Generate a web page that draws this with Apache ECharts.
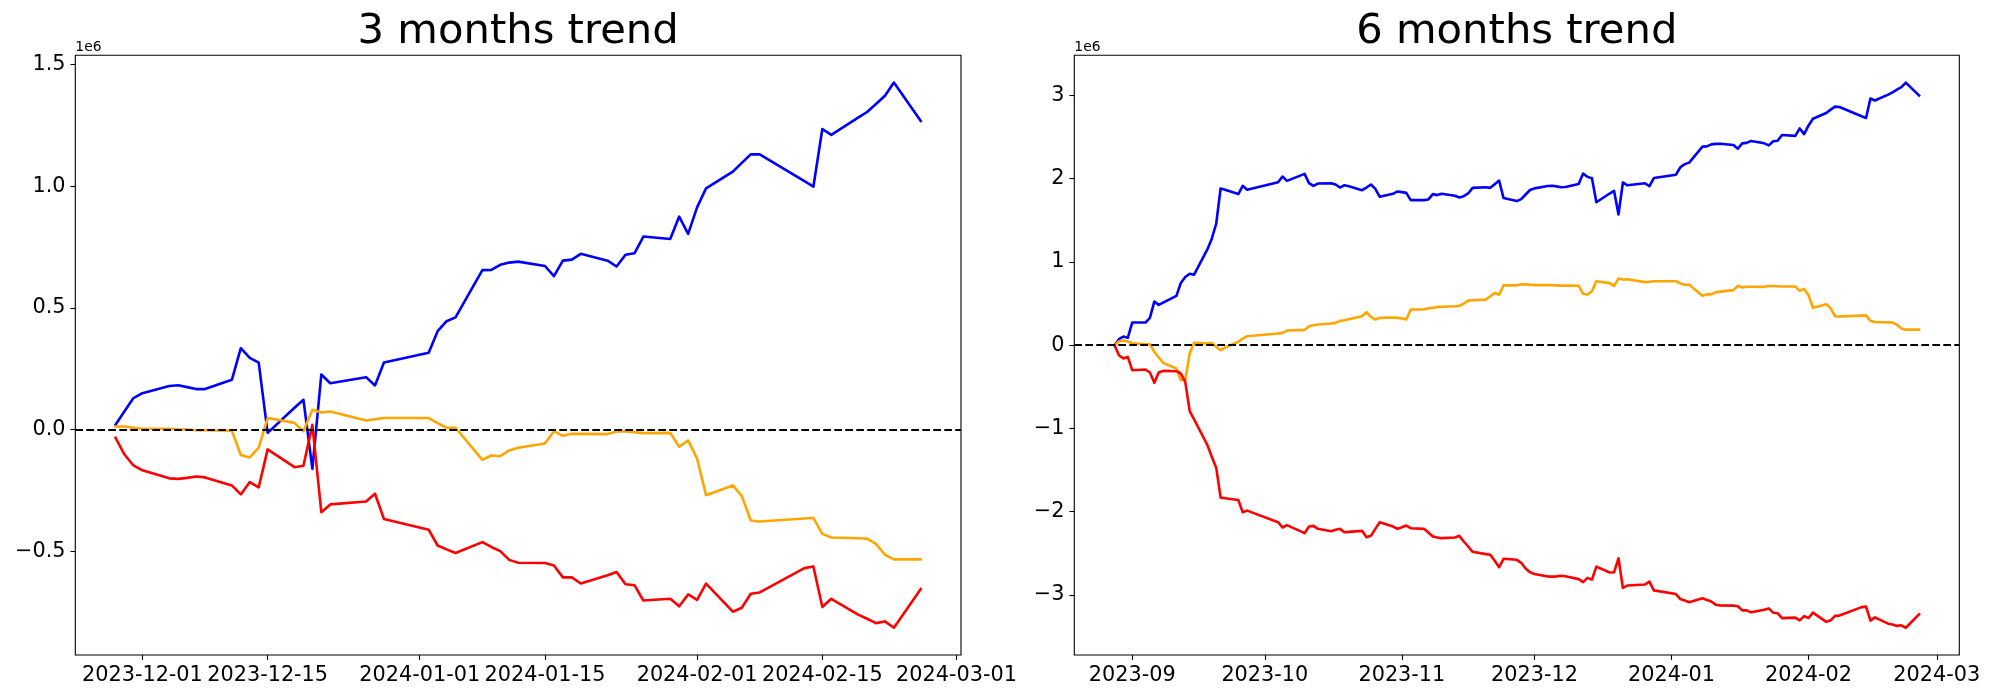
<!DOCTYPE html>
<html><head><meta charset="utf-8">
<script src="https://cdn.jsdelivr.net/npm/echarts@6/dist/echarts.min.js"></script>
<style>html,body{margin:0;padding:0;background:#fff}#chart{width:2000px;height:700px}</style>
</head><body><div id="chart"></div>
<script>
// ---------- DATA (values in units of 1e6) ----------
const titles = ['3 months trend', '6 months trend'];
const offsetLabel = '1e6';

const dates3 = ['2023-11-28','2023-11-29','2023-11-30','2023-12-01','2023-12-04','2023-12-05','2023-12-06','2023-12-07','2023-12-08',
'2023-12-11','2023-12-12','2023-12-13','2023-12-14','2023-12-15','2023-12-18','2023-12-19','2023-12-20','2023-12-21','2023-12-22',
'2023-12-26','2023-12-27','2023-12-28','2024-01-02','2024-01-03','2024-01-04','2024-01-05',
'2024-01-08','2024-01-09','2024-01-10','2024-01-11','2024-01-12','2024-01-15','2024-01-16','2024-01-17','2024-01-18','2024-01-19',
'2024-01-22','2024-01-23','2024-01-24','2024-01-25','2024-01-26','2024-01-29','2024-01-30','2024-01-31','2024-02-01','2024-02-02',
'2024-02-05','2024-02-06','2024-02-07','2024-02-08','2024-02-13','2024-02-14','2024-02-15','2024-02-16',
'2024-02-19','2024-02-20','2024-02-21','2024-02-22','2024-02-23','2024-02-26'];
const blue3 = [0.020,0.075,0.129,0.149,0.179,0.182,0.174,0.166,0.166,
0.204,0.334,0.294,0.275,-0.014,0.089,0.122,-0.162,0.226,0.190,
0.215,0.181,0.275,0.315,0.404,0.445,0.461,
0.655,0.656,0.677,0.686,0.690,0.672,0.630,0.694,0.698,0.722,
0.694,0.670,0.718,0.724,0.793,0.783,0.875,0.804,0.913,0.991,
1.060,1.096,1.131,1.131,1.021,0.998,1.235,1.211,
1.282,1.305,1.338,1.372,1.426,1.268];
const orange3 = [0.012,0.012,0.007,0.003,0.003,0.001,0.000,-0.003,-0.003,
-0.005,-0.105,-0.115,-0.075,0.047,0.027,-0.007,0.081,0.070,0.074,
0.037,0.042,0.047,0.047,0.026,0.007,0.007,
-0.125,-0.107,-0.110,-0.086,-0.075,-0.058,-0.007,-0.026,-0.018,-0.018,
-0.019,-0.008,-0.008,-0.011,-0.015,-0.014,-0.071,-0.045,-0.120,-0.270,
-0.230,-0.274,-0.374,-0.378,-0.366,-0.363,-0.429,-0.444,
-0.447,-0.449,-0.470,-0.515,-0.534,-0.534];
const red3 = [-0.034,-0.103,-0.148,-0.168,-0.201,-0.203,-0.199,-0.193,-0.197,
-0.230,-0.267,-0.216,-0.238,-0.082,-0.155,-0.149,0.019,-0.340,-0.308,
-0.296,-0.264,-0.368,-0.412,-0.477,-0.493,-0.508,
-0.463,-0.483,-0.500,-0.536,-0.548,-0.549,-0.559,-0.608,-0.608,-0.633,
-0.599,-0.586,-0.636,-0.640,-0.703,-0.696,-0.727,-0.678,-0.700,-0.634,
-0.749,-0.733,-0.675,-0.670,-0.570,-0.563,-0.730,-0.696,
-0.761,-0.778,-0.796,-0.789,-0.815,-0.656];

const dates6 = ['2023-08-28','2023-08-29','2023-08-30','2023-08-31',
'2023-09-01','2023-09-04','2023-09-05','2023-09-06','2023-09-07','2023-09-08','2023-09-11','2023-09-12','2023-09-13','2023-09-14','2023-09-15',
'2023-09-18','2023-09-19','2023-09-20','2023-09-21','2023-09-22','2023-09-25','2023-09-26','2023-09-27',
'2023-10-04','2023-10-05','2023-10-06','2023-10-10','2023-10-11','2023-10-12','2023-10-13','2023-10-16','2023-10-17','2023-10-18','2023-10-19','2023-10-20',
'2023-10-23','2023-10-24','2023-10-25','2023-10-26','2023-10-27','2023-10-30','2023-10-31',
'2023-11-01','2023-11-02','2023-11-03','2023-11-06','2023-11-07','2023-11-08','2023-11-09','2023-11-10','2023-11-13','2023-11-14','2023-11-15',
'2023-11-16','2023-11-17','2023-11-20','2023-11-21','2023-11-22','2023-11-23','2023-11-24','2023-11-27','2023-11-28','2023-11-29','2023-11-30',
'2023-12-01','2023-12-04','2023-12-05','2023-12-06','2023-12-07','2023-12-08','2023-12-11','2023-12-12','2023-12-13','2023-12-14','2023-12-15',
'2023-12-18','2023-12-19','2023-12-20','2023-12-21','2023-12-22','2023-12-26','2023-12-27','2023-12-28',
'2024-01-02','2024-01-03','2024-01-04','2024-01-05','2024-01-08','2024-01-09','2024-01-10','2024-01-11','2024-01-12','2024-01-15','2024-01-16',
'2024-01-17','2024-01-18','2024-01-19','2024-01-22','2024-01-23','2024-01-24','2024-01-25','2024-01-26','2024-01-29','2024-01-30','2024-01-31',
'2024-02-01','2024-02-02','2024-02-05','2024-02-06','2024-02-07','2024-02-08','2024-02-13','2024-02-14','2024-02-15','2024-02-16',
'2024-02-19','2024-02-20','2024-02-21','2024-02-22','2024-02-23','2024-02-26'];
const blue6 = [0.000,0.072,0.104,0.088,
0.272,0.272,0.328,0.524,0.484,0.512,0.592,0.747,0.819,0.859,0.847,
1.150,1.279,1.459,1.883,1.867,1.815,1.915,1.867,
1.958,2.026,1.974,2.058,1.946,1.914,1.942,1.946,1.930,1.894,1.922,1.910,
1.862,1.894,1.930,1.878,1.783,1.819,1.847,
1.839,1.830,1.743,1.743,1.751,1.815,1.803,1.819,1.795,1.775,1.790,
1.823,1.890,1.898,1.890,1.934,1.978,1.767,1.731,1.755,1.810,1.864,
1.884,1.912,1.915,1.908,1.898,1.900,1.936,2.062,2.022,2.006,1.717,
1.822,1.855,1.570,1.955,1.921,1.946,1.910,2.008,
2.048,2.138,2.175,2.193,2.385,2.388,2.412,2.418,2.420,2.404,2.360,
2.424,2.430,2.454,2.425,2.400,2.450,2.456,2.525,2.514,2.604,2.536,
2.640,2.720,2.790,2.830,2.866,2.862,2.750,2.730,2.964,2.940,
3.010,3.038,3.070,3.100,3.155,3.000];
const orange6 = [0.000,0.048,0.056,0.044,
0.024,0.012,0.010,-0.080,-0.148,-0.212,-0.280,-0.420,-0.420,-0.100,0.028,
0.020,0.028,-0.020,-0.060,-0.028,0.040,0.080,0.108,
0.140,0.148,0.176,0.184,0.228,0.240,0.248,0.260,0.268,0.292,0.300,0.312,
0.348,0.396,0.340,0.308,0.328,0.332,0.328,
0.320,0.308,0.428,0.428,0.444,0.448,0.460,0.462,0.468,0.472,0.500,
0.536,0.540,0.548,0.588,0.628,0.607,0.719,0.719,0.731,0.731,0.726,
0.722,0.722,0.720,0.719,0.716,0.716,0.714,0.617,0.608,0.648,0.768,
0.746,0.711,0.800,0.790,0.792,0.758,0.762,0.768,
0.768,0.742,0.726,0.726,0.595,0.612,0.610,0.636,0.644,0.662,0.713,
0.694,0.702,0.702,0.701,0.711,0.711,0.708,0.705,0.706,0.652,0.676,
0.600,0.450,0.492,0.443,0.347,0.344,0.355,0.358,0.293,0.278,
0.274,0.272,0.245,0.202,0.187,0.187];
const red6 = [0.000,-0.120,-0.160,-0.140,
-0.300,-0.292,-0.328,-0.452,-0.328,-0.308,-0.312,-0.340,-0.440,-0.791,-0.891,
-1.199,-1.339,-1.471,-1.831,-1.839,-1.859,-2.006,-1.987,
-2.126,-2.190,-2.162,-2.258,-2.178,-2.170,-2.206,-2.234,-2.218,-2.206,-2.246,-2.242,
-2.230,-2.306,-2.290,-2.206,-2.126,-2.178,-2.206,
-2.186,-2.166,-2.198,-2.206,-2.250,-2.298,-2.310,-2.318,-2.310,-2.290,-2.358,
-2.418,-2.482,-2.510,-2.518,-2.590,-2.666,-2.566,-2.578,-2.614,-2.683,-2.728,
-2.748,-2.778,-2.780,-2.777,-2.770,-2.775,-2.810,-2.846,-2.795,-2.816,-2.660,
-2.730,-2.728,-2.560,-2.916,-2.887,-2.875,-2.841,-2.945,
-2.989,-3.050,-3.068,-3.087,-3.040,-3.060,-3.079,-3.117,-3.125,-3.128,-3.135,
-3.185,-3.185,-3.209,-3.178,-3.162,-3.213,-3.219,-3.278,-3.272,-3.306,-3.254,
-3.277,-3.212,-3.323,-3.305,-3.252,-3.248,-3.146,-3.140,-3.308,-3.270,
-3.345,-3.354,-3.372,-3.365,-3.394,-3.232];

const xTicks3 = ['2023-12-01','2023-12-15','2024-01-01','2024-01-15','2024-02-01','2024-02-15','2024-03-01'];
const xTicks6 = ['2023-09','2023-10','2023-11','2023-12','2024-01','2024-02','2024-03'];
const yTicks3 = [-0.5, 0.0, 0.5, 1.0, 1.5];
const yTicks6 = [-3, -2, -1, 0, 1, 2, 3];

// ---------- helpers ----------
const FONT = '"DejaVu Sans", "Liberation Sans", sans-serif';
const colors = ['#0000ff', '#ffa500', '#ff0000'];
function toMs(s){ const p = s.split('-').map(Number); return Date.UTC(p[0], p[1]-1, p[2] || 1); }
function padRange(lo, hi){ const s = hi - lo; return [lo - 0.05*s, hi + 0.05*s]; }
function minus(s){ return s.replace('-', '\u2212'); }

const panels = [
  {dates: dates3, series: [blue3, orange3, red3], xt: xTicks3, yt: yTicks3, dec: 1,
   grid: {left: 75.3, top: 55.3, width: 885.7, height: 599.7}},
  {dates: dates6, series: [blue6, orange6, red6], xt: xTicks6, yt: yTicks6, dec: 0,
   grid: {left: 1074.3, top: 55.3, width: 885, height: 599.7}}
];

const grids = [], xAxes = [], yAxes = [], seriesList = [], graphics = [];
panels.forEach((p, i) => {
  const xs = p.dates.map(toMs);
  const xr = padRange(Math.min(...xs), Math.max(...xs));
  const all = [].concat(...p.series);
  const yr = padRange(Math.min(...all), Math.max(...all));
  const xtMs = p.xt.map(toMs);
  grids.push(Object.assign({show: true, borderColor: '#000', borderWidth: 1.1, backgroundColor: 'transparent'}, p.grid));
  const labelStyle = {color: '#000', fontSize: 20.8, fontFamily: FONT, margin: 9.8};
  xAxes.push({
    type: 'value', gridIndex: i, min: xr[0], max: xr[1], scale: true,
    splitLine: {show: false}, axisLine: {show: false, onZero: false},
    axisTick: {show: true, customValues: xtMs, length: 4.9, lineStyle: {color: '#000', width: 1.1}},
    axisLabel: Object.assign({show: true, customValues: xtMs, hideOverlap: false,
      formatter: v => { let k = 0, b = Infinity; xtMs.forEach((t, j) => { const d = Math.abs(t - v); if (d < b) { b = d; k = j; } }); return p.xt[k]; }}, labelStyle)
  });
  yAxes.push({
    type: 'value', gridIndex: i, min: yr[0], max: yr[1], scale: true,
    splitLine: {show: false}, axisLine: {show: false, onZero: false},
    axisTick: {show: true, customValues: p.yt, length: 4.9, lineStyle: {color: '#000', width: 1.1}},
    axisLabel: Object.assign({show: true, customValues: p.yt,
      formatter: v => minus((Math.abs(v) < 1e-9 ? 0 : v).toFixed(p.dec))}, labelStyle)
  });
  p.series.forEach((vals, s) => {
    const ser = {
      type: 'line', xAxisIndex: i, yAxisIndex: i, symbol: 'none', showSymbol: false,
      data: p.dates.map((d, j) => [xs[j], vals[j]]),
      lineStyle: {color: colors[s], width: 2.6, join: 'round', cap: 'square'},
      itemStyle: {color: colors[s]}, z: 2 + s, silent: true
    };
    if (s === p.series.length - 1) {
      ser.markLine = {silent: true, symbol: ['none', 'none'], label: {show: false}, animation: false,
        lineStyle: {color: '#000', type: [7.7, 3.3], width: 2.2}, data: [{yAxis: 0}], z: 10};
    }
    seriesList.push(ser);
  });
  const g = p.grid;
  graphics.push({type: 'text', x: g.left + g.width / 2, y: 32.6,
    style: {text: titles[i], font: '41.7px ' + FONT, fill: '#000', textAlign: 'center', textVerticalAlign: 'middle'}});
  graphics.push({type: 'text', x: g.left, y: 47,
    style: {text: offsetLabel, font: '13.9px ' + FONT, fill: '#000', textAlign: 'left', textVerticalAlign: 'middle'}});
});

const chart = echarts.init(document.getElementById('chart'), null, {renderer: 'canvas'});
chart.setOption({
  animation: false, backgroundColor: '#fff',
  grid: grids, xAxis: xAxes, yAxis: yAxes, series: seriesList, graphic: graphics
});
</script></body></html>
